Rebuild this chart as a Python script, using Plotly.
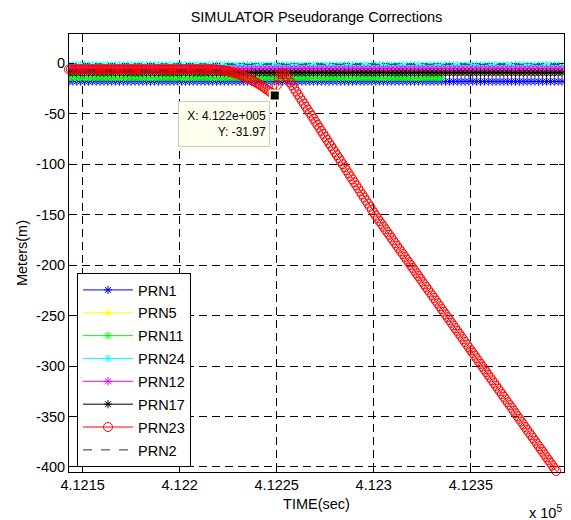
import plotly.graph_objects as go

# ---------------- data ----------------
TITLE = "SIMULATOR Pseudorange Corrections"
X_LABEL = "TIME(sec)"
Y_LABEL = "Meters(m)"
X_TICK_VALUES = [412150, 412200, 412250, 412300, 412350]
X_TICK_TEXT = ["4.1215", "4.122", "4.1225", "4.123", "4.1235"]
Y_TICK_VALUES = [0, -50, -100, -150, -200, -250, -300, -350, -400]
Y_TICK_TEXT = ["0", "-50", "-100", "-150", "-200", "-250", "-300", "-350", "-400"]
X_RANGE = [412143, 412398]
Y_RANGE = [-405, 29]

# time stamps: flat series sampled every 2 s, PRN23 every 1 s
FLAT_T0, FLAT_DT = 412143, 2
RED_T0, RED_DT = 412143, 1

PRN1 = [
    -18.0, -18.0, -18.0, -18.0, -18.0, -18.0, -18.0, -18.0, -18.0, -18.0, -18.0, -18.0, -18.0, -18.0, -18.0, -18.0,
    -18.0, -18.0, -18.0, -18.0, -18.0, -18.0, -18.0, -18.0, -18.0, -18.0, -18.0, -18.0, -18.0, -18.0, -18.0, -18.0,
    -18.0, -18.0, -18.0, -18.0, -18.0, -18.0, -18.0, -18.0, -18.0, -18.0, -18.0, -18.0, -18.0, -18.0, -18.0, -18.0,
    -18.0, -18.0, -18.0, -18.0, -18.0, -18.0, -18.0, -18.0, -18.0, -18.0, -18.0, -18.0, -18.0, -18.0, -18.0, -18.0,
    -18.0, -18.0, -18.0, -18.0, -18.0, -18.0, -18.0, -18.0, -18.0, -18.0, -18.0, -18.0, -18.0, -18.0, -18.0, -18.0,
    -18.0, -18.0, -18.0, -18.0, -18.0, -18.0, -18.0, -18.0, -18.0, -18.0, -18.0, -18.0, -18.0, -18.0, -18.0, -18.0,
    -18.0, -18.0, -18.0, -18.0, -18.0, -18.0, -18.0, -18.0, -18.0, -18.0, -18.0, -18.0, -18.0, -18.0, -18.0, -18.0,
    -18.0, -18.0, -18.0, -18.0, -18.0, -18.0, -18.0, -18.0, -18.0, -18.0, -18.0, -18.0, -18.0, -18.0, -18.0, -18.0,
]
PRN5 = [
    -8.0, -8.0, -8.0, -8.0, -8.0, -8.0, -8.0, -8.0, -8.0, -8.0, -8.0, -8.0, -8.0, -8.0, -8.0, -8.0,
    -8.0, -8.0, -8.0, -8.0, -8.0, -8.0, -8.0, -8.0, -8.0, -8.0, -8.0, -8.0, -8.0, -8.0, -8.0, -8.0,
    -8.0, -8.0, -8.0, -8.0, -8.0, -8.0, -8.0, -8.0, -8.0, -8.0, -8.0, -8.0, -8.0, -8.0, -8.0, -8.0,
    -8.0, -8.0, -8.0, -8.0, -8.0, -8.0, -8.0, -8.0, -8.0, -8.0, -8.0, -8.0, -8.0, -8.0, -8.0, -8.0,
    -8.0, -8.0, -8.0, -8.0, -8.0, -8.0, -8.0, -8.0, -8.0, -8.0, -8.0, -8.0, -8.0, -8.0, -8.0, -8.0,
    -8.0, -8.0, -8.0, -8.0, -8.0, -8.0, -8.0, -8.0, -8.0, -8.0, -8.0, -8.0, -8.0, -8.0, -8.0, -8.0,
    -8.0, -8.0, -8.0, -8.0, -8.0, -8.0, -8.0, -8.0, -8.0, -8.0, -8.0, -8.0, -8.0, -8.0, -8.0, -8.0,
    -8.0, -8.0, -8.0, -8.0, -8.0, -8.0, -8.0, -8.0, -8.0, -8.0, -8.0, -8.0, -8.0, -8.0, -8.0, -8.0,
]
PRN11 = [
    -14.5, -14.5, -14.5, -14.5, -14.5, -14.5, -14.5, -14.5, -14.5, -14.5, -14.5, -14.5, -14.5, -14.5, -14.5, -14.5,
    -14.5, -14.5, -14.5, -14.5, -14.5, -14.5, -14.5, -14.5, -14.5, -14.5, -14.5, -14.5, -14.5, -14.5, -14.5, -14.5,
    -14.5, -14.5, -14.5, -14.5, -14.5, -14.5, -14.5, -14.5, -14.5, -14.5, -14.5, -14.5, -14.5, -14.5, -14.5, -14.5,
    -14.5, -14.5, -14.5, -14.5, -14.5, -14.5, -14.5, -14.5, -14.5, -14.5, -14.5, -14.5, -14.5, -14.5, -14.5, -14.5,
    -14.5, -14.5, -14.5, -14.5, -14.5, -14.5, -14.5, -14.5, -14.5, -14.5, -14.5, -14.5, -14.5, -14.5, -14.5, -14.5,
    -14.5, -14.5, -14.5, -14.5, -14.5, -14.5, -14.5, -14.5, -14.5, -14.5, -14.5, -14.5, -14.5, -14.5, -14.5, -14.5,
    -14.5,
]
PRN24 = [
    -2.0, -2.0, -2.0, -2.0, -2.0, -2.0, -2.0, -2.0, -2.0, -2.0, -2.0, -2.0, -2.0, -2.0, -2.0, -2.0,
    -2.0, -2.0, -2.0, -2.0, -2.0, -2.0, -2.0, -2.0, -2.0, -2.0, -2.0, -2.0, -2.0, -2.0, -2.0, -2.0,
    -2.0, -2.0, -2.0, -2.0, -2.0, -2.0, -2.0, -2.0, -2.0, -2.0, -2.0, -2.0, -2.0, -2.0, -2.0, -2.0,
    -2.0, -2.0, -2.0, -2.0, -2.0, -2.0, -2.0, -2.0, -2.0, -2.0, -2.0, -2.0, -2.0, -2.0, -2.0, -2.0,
    -2.0, -2.0, -2.0, -2.0, -2.0, -2.0, -2.0, -2.0, -2.0, -2.0, -2.0, -2.0, -2.0, -2.0, -2.0, -2.0,
    -2.0, -2.0, -2.0, -2.0, -2.0, -2.0, -2.0, -2.0, -2.0, -2.0, -2.0, -2.0, -2.0, -2.0, -2.0, -2.0,
    -2.0, -2.0, -2.0, -2.0, -2.0, -2.0, -2.0, -2.0, -2.0, -2.0, -2.0, -2.0, -2.0, -2.0, -2.0, -2.0,
    -2.0, -2.0, -2.0, -2.0, -2.0, -2.0, -2.0, -2.0, -2.0, -2.0, -2.0, -2.0, -2.0, -2.0, -2.0, -2.0,
]
PRN12 = [
    -5.5, -5.5, -5.5, -5.5, -5.5, -5.5, -5.5, -5.5, -5.5, -5.5, -5.5, -5.5, -5.5, -5.5, -5.5, -5.5,
    -5.5, -5.5, -5.5, -5.5, -5.5, -5.5, -5.5, -5.5, -5.5, -5.5, -5.5, -5.5, -5.5, -5.5, -5.5, -5.5,
    -5.5, -5.5, -5.5, -5.5, -5.5, -5.5, -5.5, -5.5, -5.5, -5.5, -5.5, -5.5, -5.5, -5.5, -5.5, -5.5,
    -5.5, -5.5, -5.5, -5.5, -5.5, -5.5, -5.5, -5.5, -5.5, -5.5, -5.5, -5.5, -5.5, -5.5, -5.5, -5.5,
    -5.5, -5.5, -5.5, -5.5, -5.5, -5.5, -5.5, -5.5, -5.5, -5.5, -5.5, -5.5, -5.5, -5.5, -5.5, -5.5,
    -5.5, -5.5, -5.5, -5.5, -5.5, -5.5, -5.5, -5.5, -5.5, -5.5, -5.5, -5.5, -5.5, -5.5, -5.5, -5.5,
    -5.5, -5.5, -5.5, -5.5, -5.5, -5.5, -5.5, -5.5, -5.5, -5.5, -5.5, -5.5, -5.5, -5.5, -5.5, -5.5,
    -5.5, -5.5, -5.5, -5.5, -5.5, -5.5, -5.5, -5.5, -5.5, -5.5, -5.5, -5.5, -5.5, -5.5, -5.5, -5.5,
]
PRN17 = [
    -9.5, -9.5, -9.5, -9.5, -9.5, -9.5, -9.5, -9.5, -9.5, -9.5, -9.5, -9.5, -9.5, -9.5, -9.5, -9.5,
    -9.5, -9.5, -9.5, -9.5, -9.5, -9.5, -9.5, -9.5, -9.5, -9.5, -9.5, -9.5, -9.5, -9.5, -9.5, -9.5,
    -9.5, -9.5, -9.5, -9.5, -9.5, -9.5, -9.5, -9.5, -9.5, -9.5, -9.5, -9.5, -9.5, -9.5, -9.5, -9.5,
    -9.5, -9.5, -9.5, -9.5, -9.5, -9.5, -9.5, -9.5, -9.5, -9.5, -9.5, -9.5, -9.5, -9.5, -9.5, -9.5,
    -9.5, -9.5, -9.5, -9.5, -9.5, -9.5, -9.5, -9.5, -9.5, -9.5, -9.5, -9.5, -9.5, -9.5, -9.5, -9.5,
    -9.5, -9.5, -9.5, -9.5, -9.5, -9.5, -9.5, -9.5, -9.5, -9.5, -9.5, -9.5, -9.5, -9.5, -9.5, -9.5,
    -9.5, -9.5, -9.5, -9.5, -9.5, -9.5, -9.5, -9.5, -9.5, -9.5, -9.5, -9.5, -9.5, -9.5, -9.5, -9.5,
    -9.5, -9.5, -9.5, -9.5, -9.5, -9.5, -9.5, -9.5, -9.5, -9.5, -9.5, -9.5, -9.5, -9.5, -9.5, -9.5,
]
PRN23 = [
    # 412143 .. 412216
    -6.0, -6.0, -6.0, -6.0, -6.0, -6.0, -6.0, -6.0, -6.0, -6.0,
    -6.0, -6.0, -6.0, -6.0, -6.0, -6.0, -6.0, -6.0, -6.0, -6.0,
    -6.0, -6.0, -6.0, -6.0, -6.0, -6.0, -6.0, -6.0, -6.0, -6.0,
    -6.0, -6.0, -6.0, -6.0, -6.0, -6.0, -6.0, -6.0, -6.0, -6.0,
    -6.0, -6.0, -6.0, -6.0, -6.0, -6.0, -6.0, -6.0, -6.0, -6.0,
    -6.0, -6.0, -6.0, -6.0, -6.0, -6.0, -6.0, -6.0, -6.0, -6.0,
    -6.0, -6.0, -6.0, -6.0, -6.0, -6.0, -6.0, -6.0, -6.0, -6.0,
    -6.0, -6.0, -6.0, -6.0,
    # 412217 .. 412249
    -6.0, -6.1, -6.2, -6.4, -6.6, -6.9, -7.2, -7.5, -7.9, -8.4,
    -8.9, -9.4, -10.0, -10.7, -11.4, -12.1, -12.9, -13.7, -14.6, -15.6,
    -16.5, -17.6, -18.6, -19.8, -20.9, -22.2, -23.4, -24.7, -26.1, -27.5,
    -29.0, -30.5, -31.97,
    # 412250 .. 412254
    -22.0, -15.0, -11.0, -10.0, -11.0,
    # 412255 .. 412301
    -13.0, -16.0, -19.0, -22.0, -25.0, -28.0, -31.0, -34.0, -37.0, -40.0,
    -43.0, -46.0, -49.0, -52.0, -55.0, -58.0, -61.0, -64.0, -67.0, -70.0,
    -73.0, -76.0, -79.0, -82.0, -85.0, -88.0, -91.0, -94.0, -97.0, -100.0,
    -103.0, -106.0, -109.0, -112.0, -115.0, -118.0, -121.0, -124.0, -127.0, -130.0,
    -133.0, -136.0, -139.0, -142.0, -145.0, -148.0, -151.0,
    # 412302 .. 412394
    -153.7, -156.4, -159.2, -161.9, -164.6, -167.3, -170.0, -172.8, -175.5, -178.2,
    -180.9, -183.6, -186.4, -189.1, -191.8, -194.5, -197.2, -199.9, -202.7, -205.4,
    -208.1, -210.8, -213.5, -216.3, -219.0, -221.7, -224.4, -227.2, -229.9, -232.6,
    -235.3, -238.0, -240.8, -243.5, -246.2, -248.9, -251.6, -254.4, -257.1, -259.8,
    -262.5, -265.2, -268.0, -270.7, -273.4, -276.1, -278.8, -281.6, -284.3, -287.0,
    -289.7, -292.4, -295.2, -297.9, -300.6, -303.3, -306.0, -308.8, -311.5, -314.2,
    -316.9, -319.6, -322.4, -325.1, -327.8, -330.5, -333.2, -336.0, -338.7, -341.4,
    -344.1, -346.8, -349.6, -352.3, -355.0, -357.7, -360.4, -363.2, -365.9, -368.6,
    -371.3, -374.0, -376.8, -379.5, -382.2, -384.9, -387.6, -390.4, -393.1, -395.8,
    -398.5, -401.2, -404.0,
]
# PRN2: dashed line without markers (breakpoints)
PRN2_T = [412143, 412221, 412222, 412398]
PRN2 = [-7.0, -7.0, -1.0, -1.0]

DATATIP_T = 412249  # time of the marked PRN23 sample

# ---------------- figure ----------------
FONT = "Liberation Sans, Arial, Helvetica, sans-serif"
W, H = 571, 520
L, R, T, B = 69, 7, 34, 48

flat_t = [FLAT_T0 + FLAT_DT * i for i in range(128)]
red_t = [RED_T0 + RED_DT * i for i in range(len(PRN23))]

fig = go.Figure()

flat_series = [
    ("PRN1", PRN1, "#0000FF"),
    ("PRN5", PRN5, "#FFFF00"),
    ("PRN11", PRN11, "#00FF00"),
    ("PRN24", PRN24, "#00FFFF"),
    ("PRN12", PRN12, "#FF00FF"),
    ("PRN17", PRN17, "#000000"),
]
for name, vals, col in flat_series:
    fig.add_trace(go.Scatter(
        x=flat_t[:len(vals)], y=vals, name=name, legendgroup=name,
        mode="lines+markers",
        line=dict(color=col, width=1),
        marker=dict(symbol="asterisk-open", size=7, color=col,
                    line=dict(color=col, width=1)),
    ))

fig.add_trace(go.Scatter(
    x=red_t, y=PRN23, name="PRN23", legendgroup="PRN23",
    mode="lines+markers", cliponaxis=False,
    line=dict(color="#FF0000", width=1),
    marker=dict(symbol="circle-open", size=9, color="#FF0000",
                line=dict(color="#FF0000", width=1)),
))

fig.add_trace(go.Scatter(
    x=PRN2_T, y=PRN2, name="PRN2", legendgroup="PRN2",
    mode="lines", line=dict(color="#333333", width=1, dash="dash"),
))

# data tip marker
tip_i = red_t.index(DATATIP_T)
tip_x, tip_y = red_t[tip_i], PRN23[tip_i]
fig.add_trace(go.Scatter(
    x=[tip_x], y=[tip_y], mode="markers", showlegend=False, cliponaxis=False,
    marker=dict(symbol="square", size=10, color="#000000",
                line=dict(color="#FFFFE0", width=2)),
))

fig.add_annotation(
    x=tip_x, y=tip_y, xref="x", yref="y",
    text="X: 4.122e+005<br>Y: -31.97", showarrow=False,
    align="right", xanchor="center", yanchor="middle",
    xshift=-51, yshift=-28, width=84, height=38,
    bgcolor="#FFFFEE", bordercolor="#CCCCCC", borderwidth=1, borderpad=3,
    font=dict(family=FONT, size=12, color="#000000"),
)

fig.add_annotation(
    x=1, y=-40 / (H - T - B), xref="paper", yref="paper",
    text="x 10<sup>5</sup>", showarrow=False,
    xanchor="right", yanchor="middle",
    font=dict(family=FONT, size=14.5, color="#000000"),
)

axis_common = dict(
    showline=True, linecolor="#000000", linewidth=1, mirror="ticks",
    ticks="inside", ticklen=5, tickcolor="#000000",
    showgrid=True, gridcolor="#000000", gridwidth=1, griddash="8px,5px",
    zeroline=False,
    tickfont=dict(family=FONT, size=14.5, color="#000000"),
)

fig.update_xaxes(
    range=X_RANGE, tickmode="array", tickvals=X_TICK_VALUES, ticktext=X_TICK_TEXT,
    title=dict(text=X_LABEL, font=dict(family=FONT, size=14.5, color="#000000"), standoff=6),
    **axis_common,
)
fig.update_yaxes(
    range=Y_RANGE, tickmode="array", tickvals=Y_TICK_VALUES, ticktext=Y_TICK_TEXT,
    title=dict(text=Y_LABEL, font=dict(family=FONT, size=14.5, color="#000000"), standoff=4),
    **axis_common,
)

fig.update_layout(
    width=W, height=H,
    margin=dict(l=L, r=R, t=T, b=B),
    paper_bgcolor="#FFFFFF", plot_bgcolor="#FFFFFF",
    title=dict(text=TITLE, x=(L + (W - L - R) / 2) / W, xanchor="center",
               y=1 - 17 / H, yanchor="middle",
               font=dict(family=FONT, size=14.5, color="#000000")),
    showlegend=True,
    legend=dict(
        x=8 / (W - L - R), y=(H - B - 273) / (H - T - B), xanchor="left", yanchor="top",
        bgcolor="#FFFFFF", bordercolor="#000000", borderwidth=1,
        font=dict(family=FONT, size=14.5, color="#000000"),
        tracegroupgap=1, itemwidth=50,
    ),
    font=dict(family=FONT, color="#000000"),
)

fig.write_html(
    "out.html",
    config={"displayModeBar": False},
    post_script="document.body.style.margin='0';document.body.style.padding='0';",
)
